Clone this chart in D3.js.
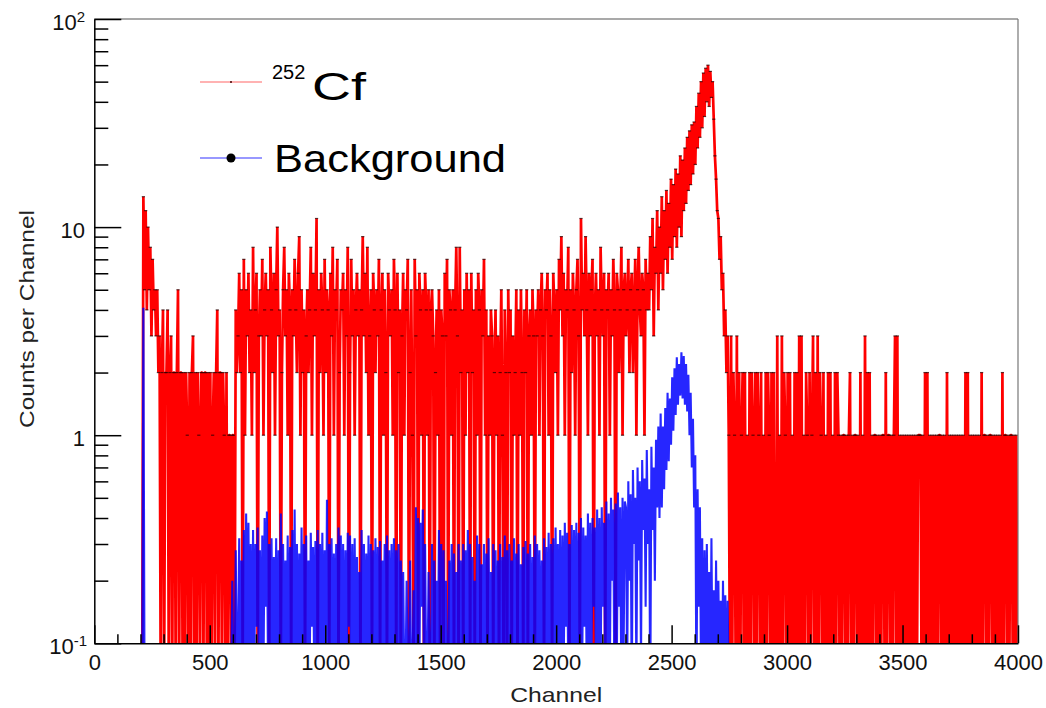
<!DOCTYPE html>
<html><head><meta charset="utf-8">
<script src="https://cdn.jsdelivr.net/npm/d3@7"></script>
<style>
html,body{margin:0;padding:0;background:#fff;}
svg{display:block;font-family:"Liberation Sans",Arial,Helvetica,sans-serif;}
</style></head><body>
<svg id="chart" width="1046" height="708"></svg>
<script>
// ---------------- DATA (counts per channel, sampled every 5 channels) ----------------
const BIN = 5;
// 252Cf spectrum
const cfRiseStart = 210;
const cfRise = [14,5,12,4,10,5,8,3,7,4,5,3,5,2];
const cfLowStart = 280;
const cfLow = [3,0,2,4,0,2,2,4,0,2, 3,0,2,2,0,2,5,0,2,2, 0,2,0,2,1,0,2,0,2,3, 0,2,0,2,1,0,2,2,0,2,
               2,0,2,0,2,0,1,2,0,2, 4,0,2,2,0,2,1,0,2,0, 1,1,0,1,1,0,4,2];
const cfMidStart = 620;
const cfMid = [
 3,6,2,5,0,7,1,5,3,6,2,4,1,8,2,4,6,0,3,5,
 3,7,1,4,6,3,5,0,8,4,2,6,1,5,10,3,4,0,2,5,
 8,3,5,1,6,4,0,5,3,7,4,2,6,9,1,5,2,4,0,3,
 5,2,4,8,1,6,3,4,11,0,5,2,6,4,1,7,2,5,4,0,
 6,3,8,1,5,4,7,0,2,5,4,6,1,5,3,8,0,2,7,3,
 5,1,4,6,3,5,0,4,9,3,6,2,8,1,3,5,0,6,4,2,
 5,3,7,0,4,6,1,5,2,0,6,4,3,5,1,7,4,0,6,2,
 4,0,3,6,1,5,4,7,0,2,5,1,0,7,3,5,0,6,4,1,
 5,0,6,4,1,5,0,4,5,3,0,2,4,1,5,0,4,3,0,6,
 3,7,0,5,4,1,5,0,4,8,3,0,8,2,4,0,5,1,6,2,
 5,0,6,2,4,0,5,1,6,4,0,5,3,7,1,4,0,3,1,4,
 3,0,2,4,1,3,0,2,5,1,0,4,2,0,5,2,4,0,3,1,
 2,5,0,4,1,5,2,0,4,2,5,0,3,4,1,5,3,0,4,3,
 5,1,4,6,3,0,5,4,6,1,5,3,0,6,4,2,5,1,7,4,
 9,3,6,1,5,4,8,0,5,2,6,4,1,5,7,3,0,11,4,6,
 3,9,4,1,6,3,5,7,0,4,6,3,5,1,8,4,3,6,0,5,
 4,6,1,5,3,7,4,0,6,5,2,4,8,1,5,6,3,4,7,2,
 5,6,2,4,7,1,5,8,4,3,6,5,1,7,4,6];
const cfPeakStart = 2400;
const cfPeak = [
 4,9,5,11,3,8,6,12,4,10,
 6,14,5,12,7,15,6,13,8,17,
 7,16,9,19,8,18,10,22,9,21,
 12,24,13,27,15,29,16,31,18,32,
 20,38,24,44,27,50,30,55,34,58,
 40,60,38,56,42,50,33,22,17,12,
 11,7,9,5,6,3,4,2,3,1];
const cfTailStart = 2750;
const cfTail = [
 0,3,0,2,1,0,3,0,2,0,1,2,0,2,0,1,0,2,0,2,
 1,0,2,0,2,1,0,2,0,1,0,2,0,2,1,0,2,0,2,0,
 0,3,0,1,0,3,0,2,1,0,2,0,2,0,1,0,2,0,2,0,
 3,0,3,0,1,0,2,1,0,2,0,1,3,0,2,0,3,0,2,1,
 0,2,0,1,0,2,0,2,0,1,0,2,0,2,1,0,1,0,1,1,
 0,1,0,1,2,0,1,0,1,1,0,1,0,2,0,1,0,3,0,2,
 0,2,0,1,0,1,1,0,1,0,1,0,1,1,0,2,0,1,1,0,
 1,0,1,3,0,3,0,1,0,1,0,1,0,1,0,1,0,1,0,1,
 0,1,0,1,1,1,0,1,0,2,0,2,0,1,0,1,0,1,0,1,
 0,1,1,0,1,0,1,0,2,0,1,0,1,0,1,0,1,0,1,0,
 1,0,1,0,2,0,2,0,1,0,1,0,1,0,1,0,1,0,2,0,
 1,1,0,1,0,1,1,0,1,0,1,0,1,0,1,0,2,0,1,1,
 0,1,0,1,1,0,1,0,1,0];
// Background spectrum (normalised)
const bgSpikeStart = 210;
const bgSpike = [4.1];
const bgFlatStart = 585;
const bgFlat = [
 0,0,0.2,0,0,0.28,0,0.1,0.32,0,0.25,0.05,0.35,0,0.42,0.1,0.38,0,0.3,0.05,
 0.35,0,0.3,0.12,0.36,0,0.28,0.05,0.33,0,0.4,0.15,0.43,0,0.3,0.08,0.32,0,0.26,0,
 0.32,0.05,0.28,0,0.42,0.1,0.3,0,0.25,0.06,0.33,0,0.29,0.1,0.35,0,0.44,0.05,0.3,0,
 0.27,0,0.36,0.1,0.3,0,0.33,0.05,0.25,0,0.34,0.12,0.29,0,0.31,0.06,0.35,0,0.3,0.08,
 0.34,0,0.28,0.05,0.49,0,0.3,0.1,0.32,0,0.27,0.06,0.3,0,0.36,0.1,0.33,0,0.3,0.05,
 0.28,0,0.34,0.12,0.33,0,0.3,0.05,0.32,0,0.26,0.08,0.22,0,0.35,0.1,0.3,0,0.27,0,
 0.33,0.05,0.3,0,0.28,0.1,0.32,0,0.29,0.06,0.31,0,0.25,0.1,0.3,0,0.33,0.05,0.28,0,
 0.3,0.06,0.32,0,0.28,0,0.3,0.08,0.25,0,0.22,0,0,0.2,0,0,0.25,0,0,0.18,
 0,0.45,0.1,0.4,0,0.38,0.15,0.44,0,0.3,0,0,0.22,0,0,0.3,0,0.25,0,0.2,
 0,0.35,0.1,0.3,0,0.28,0,0.2,0,0,0.25,0,0.3,0.05,0.27,0,0.22,0,0.3,0,
 0.25,0,0.3,0.1,0.28,0,0.35,0.05,0.3,0,0.26,0,0.2,0,0.33,0.08,0.3,0,0.24,0,
 0.3,0.05,0.27,0,0.32,0,0.22,0.06,0.3,0,0.28,0,0.25,0.1,0.3,0,0.26,0,0.33,0.05,
 0.28,0,0.3,0.08,0.25,0,0.32,0,0.27,0.05,0.3,0,0.24,0,0.29,0.1,0.31,0,0.27,0,
 0.3,0.05,0.26,0,0.33,0,0.3,0.1,0.28,0,0.25,0.06,0.32,0,0.29,0,0.34,0.08,0.3,0,
 0.32,0,0.36,0.1,0.3,0,0.35,0.05,0.33,0,0.38,0.12,0.34,0,0.3,0.06,0.37,0,0.35,0.1,
 0.38,0,0.34,0.08,0.4,0,0.36,0.12,0.33,0,0.42,0.1,0.38,0,0.4,0.15,0.36,0,0.44,0.1,
 0.4,0,0.45,0.15,0.38,0.05,0.48,0.1,0.42,0,0.5,0.2,0.44,0.05,0.47,0,0.53,0.15,0.45,0.05,
 0.5,0.1,0.48];
const bgPeakStart = 2300;
const bgPeak = [
 0.45,0,0.6,0.2,0.52,0.05,0.68,0.3,0.5,0,
 0.7,0.25,0.6,0.08,0.76,0.35,0.62,0.15,0.85,0.3,
 0.55,0.05,0.88,0.35,0.7,0.2,0.95,0.45,1.1,0.4,
 1.27,0.45,1.1,0.55,1.35,0.68,1.6,0.75,1.5,0.9,
 1.9,1.05,2.1,1.25,2.37,1.4,2.2,1.55,2.5,1.5,
 2.4,1.4,2.2,1.3,1.95,1.0,1.6,0.7,1.2,0.45,
 0.8,0.05,0.55,0.15,0.45,0,0.32,0.05,0.28,0,
 0.3,0,0.22,0.06,0.32,0,0.18,0.05,0.25,0,
 0.2,0,0.16,0.05,0.2,0,0.17,0.04,0.16,0];
// Axis ticks
const xMajorTicks = [0,500,1000,1500,2000,2500,3000,3500,4000];
const yMajorTicks = [0.1,1,10,100];
const yTickBase = ["10","1","10","10"];
const yTickExp = ["-1","","","2"];
const yMinorMantissa = [2,3,4,5,6,7,8,9];
const xTitle = "Channel";
const yTitle = "Counts per Channel";

// ---------------- LAYOUT ----------------
const L = 94.3, R = 1018, T = 19, B = 643.3;
const svg = d3.select('#chart');
const x = d3.scaleLinear().domain([0,4000]).range([L,R]);
const y = d3.scaleLog().domain([0.1,100]).range([B,T]);

function buildSeries(segments){
  const m = new Map();
  segments.forEach(([s,vals]) => vals.forEach((v,i) => m.set(s + i*BIN, v)));
  const pts = [];
  for (let ch = 0; ch < 4000; ch += BIN) pts.push({ch, v: m.has(ch) ? m.get(ch) : 0});
  return pts;
}
const cfSeries = buildSeries([[cfRiseStart,cfRise],[cfLowStart,cfLow],[cfMidStart,cfMid],[cfPeakStart,cfPeak],[cfTailStart,cfTail]]);
const bgSeries = buildSeries([[bgSpikeStart,bgSpike],[bgFlatStart,bgFlat],[bgPeakStart,bgPeak]]);

svg.append('defs').append('clipPath').attr('id','plotclip')
  .append('rect').attr('x',L).attr('y',T).attr('width',R-L).attr('height',B-T);

const yv = v => v > 0 ? y(v) : B + 40;
const line = d3.line().x(d => x(d.ch + BIN/2)).y(d => yv(d.v));

const plot = svg.append('g').attr('clip-path','url(#plotclip)');
plot.append('path').datum(cfSeries)
  .attr('d', line).attr('fill','none').attr('stroke','#ff0000')
  .attr('stroke-width',2.7).attr('stroke-linejoin','bevel');
// markers
plot.append('g').selectAll('rect').data(cfSeries.filter(d => d.v >= 1))
  .join('rect')
  .attr('x', d => x(d.ch + BIN/2) - 1.6).attr('y', d => y(d.v) - 0.6)
  .attr('width', 3.2).attr('height', 1.2)
  .attr('fill', '#2a0000').attr('opacity', 0.75);

plot.append('path').datum(bgSeries)
  .attr('d', line).attr('fill','none').attr('stroke','#0000ff')
  .attr('stroke-width',2.1).attr('stroke-linejoin','bevel').attr('opacity',0.85);

// ---------------- AXES ----------------
const axStyle = g => {
  g.selectAll('path,line').attr('stroke','#000').attr('stroke-width',1.5);
  g.selectAll('text').attr('font-size',22).attr('fill','#111')
   .attr('font-family','"Liberation Sans",Arial,Helvetica,sans-serif');
};
// frame top/right
svg.append('line').attr('x1',L).attr('x2',R).attr('y1',T).attr('y2',T).attr('stroke','#555').attr('stroke-width',1.2);
svg.append('line').attr('x1',R).attr('x2',R).attr('y1',T).attr('y2',B).attr('stroke','#777').attr('stroke-width',1.2);

const gxMinor = svg.append('g').attr('transform',`translate(0,${B})`)
  .call(d3.axisBottom(x).tickValues(d3.range(0,4001,100).filter(v => v % 500)).tickSize(-9).tickSizeOuter(0).tickFormat(''));
gxMinor.select('.domain').remove(); axStyle(gxMinor);
const gx = svg.append('g').attr('transform',`translate(0,${B})`)
  .call(d3.axisBottom(x).tickValues(xMajorTicks).tickSize(-18).tickSizeOuter(0).tickPadding(11).tickFormat(d3.format('d')));
axStyle(gx);

const yMinorVals = [];
[0.1,1,10].forEach(dec => yMinorMantissa.forEach(m => yMinorVals.push(+(dec*m).toPrecision(3))));
const gyMinor = svg.append('g').attr('transform',`translate(${L},0)`)
  .call(d3.axisLeft(y).tickValues(yMinorVals).tickSize(-14).tickSizeOuter(0).tickFormat(''));
gyMinor.select('.domain').remove(); axStyle(gyMinor);
const gy = svg.append('g').attr('transform',`translate(${L},0)`)
  .call(d3.axisLeft(y).tickValues(yMajorTicks).tickSize(-27).tickSizeOuter(0).tickFormat(''));
axStyle(gy);

// y tick labels with superscripts
yMajorTicks.forEach((v,i) => {
  const t = svg.append('text').attr('x', yTickExp[i] === "-1" ? 87 : 85).attr('y', y(v) + 11)
    .attr('text-anchor','end').attr('font-size',22).attr('fill','#111').text(yTickBase[i]);
  if (yTickExp[i]) t.append('tspan').attr('dy',-8).attr('font-size',15).text(yTickExp[i]);
});

// titles
svg.append('text').attr('x',(L+R)/2).attr('y',702).attr('text-anchor','middle').attr('fill','#222')
  .attr('font-size',21).attr('textLength',92).attr('lengthAdjust','spacingAndGlyphs').text(xTitle);
svg.append('text').attr('transform','translate(34,319) rotate(-90)').attr('text-anchor','middle').attr('fill','#222')
  .attr('font-size',20).attr('textLength',218).attr('lengthAdjust','spacingAndGlyphs').text(yTitle);

// ---------------- LEGEND ----------------
const lg = svg.append('g');
lg.append('line').attr('x1',200).attr('x2',262).attr('y1',82).attr('y2',82)
  .attr('stroke','#ff0000').attr('stroke-width',1.2).attr('opacity',0.6);
lg.append('circle').attr('cx',231).attr('cy',82).attr('r',1).attr('fill','#400');
lg.append('text').attr('x',272).attr('y',79).attr('font-size',20).text('252');
lg.append('text').attr('x',312).attr('y',100).attr('font-size',38)
  .attr('textLength',54).attr('lengthAdjust','spacingAndGlyphs').text('Cf');
lg.append('line').attr('x1',200).attr('x2',262).attr('y1',158).attr('y2',158)
  .attr('stroke','#0000ff').attr('stroke-width',1.2).attr('opacity',0.8);
lg.append('circle').attr('cx',231).attr('cy',158).attr('r',4.5).attr('fill','#000');
lg.append('text').attr('x',274).attr('y',172).attr('font-size',38)
  .attr('textLength',232).attr('lengthAdjust','spacingAndGlyphs').text('Background');
</script>
</body></html>
